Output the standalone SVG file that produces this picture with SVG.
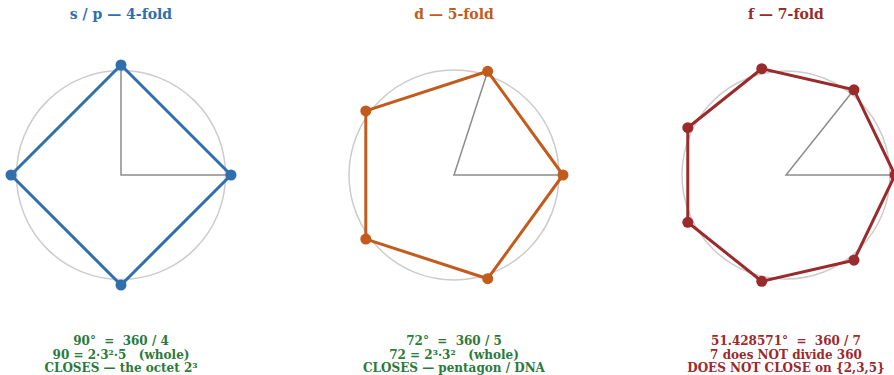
<svg xmlns="http://www.w3.org/2000/svg" width="894" height="375" viewBox="0 0 894 375">
<style>
.bg{fill:#ffffff}
.title{font-family:"DejaVu Serif",serif;font-weight:bold;font-size:14px;text-anchor:middle}
.cap{font-family:"DejaVu Serif",serif;font-weight:bold;font-size:12px;text-anchor:middle}
.circ{fill:none;stroke:#cccccc;stroke-width:1.5}
.rad{stroke:#8c8c8c;stroke-width:1.5;fill:none}
.poly{fill:none;stroke-width:3;stroke-linejoin:round}
.blue{stroke:#2f6fae}
.orange{stroke:#c25b1b}
.red{stroke:#9a2a2c}
.dblue{fill:#2f6fae}
.dorange{fill:#c25b1b}
.dred{fill:#9a2a2c}
.green{fill:#2b7a3b}
</style>
<rect class="bg" x="0" y="0" width="894" height="375"/>

<g id="panel-sp">
<text class="title dblue" x="121" y="18.5">s / p — 4-fold</text>
<circle class="circ" cx="121" cy="175" r="104.5"/>
<polyline class="rad" points="121,65 121,175 231,175"/>
<polygon class="poly blue" points="231,175 121,65 11,175 121,285"/>
<g class="dblue">
<circle cx="231" cy="175" r="5.5"/><circle cx="121" cy="65" r="5.5"/><circle cx="11" cy="175" r="5.5"/><circle cx="121" cy="285" r="5.5"/>
</g>
<text class="cap green" x="121" y="345" xml:space="preserve">90°  =  360 / 4</text>
<text class="cap green" x="121" y="358.5" xml:space="preserve">90 = 2·3²·5   (whole)</text>
<text class="cap green" x="121" y="372">CLOSES — the octet 2³</text>
</g>

<g id="panel-d">
<text class="title dorange" x="454" y="18.5">d — 5-fold</text>
<circle class="circ" cx="454" cy="175" r="105"/>
<polyline class="rad" points="487.7,71.3 454,175 563,175"/>
<polygon class="poly orange" points="563,175 487.7,71.3 365.8,110.9 365.8,239.1 487.7,278.7"/>
<g class="dorange">
<circle cx="563" cy="175" r="5.5"/><circle cx="487.7" cy="71.3" r="5.5"/><circle cx="365.8" cy="110.9" r="5.5"/><circle cx="365.8" cy="239.1" r="5.5"/><circle cx="487.7" cy="278.7" r="5.5"/>
</g>
<text class="cap green" x="454" y="345" xml:space="preserve">72°  =  360 / 5</text>
<text class="cap green" x="454" y="358.5" xml:space="preserve">72 = 2³·3²   (whole)</text>
<text class="cap green" x="454" y="372">CLOSES — pentagon / DNA</text>
</g>

<g id="panel-f">
<text class="title dred" x="786" y="18.5">f — 7-fold</text>
<circle class="circ" cx="786" cy="175" r="104"/>
<polyline class="rad" points="853.96,89.78 786,175 895,175"/>
<polygon class="poly red" points="895,175 853.96,89.78 761.75,68.73 687.79,127.71 687.79,222.29 761.75,281.27 853.96,260.22"/>
<g class="dred">
<circle cx="895" cy="175" r="5.5"/><circle cx="853.96" cy="89.78" r="5.5"/><circle cx="761.75" cy="68.73" r="5.5"/><circle cx="687.79" cy="127.71" r="5.5"/><circle cx="687.79" cy="222.29" r="5.5"/><circle cx="761.75" cy="281.27" r="5.5"/><circle cx="853.96" cy="260.22" r="5.5"/>
</g>
<text class="cap dred" x="786" y="345" xml:space="preserve">51.428571°  =  360 / 7</text>
<text class="cap dred" x="786" y="358.5">7 does NOT divide 360</text>
<text class="cap dred" x="786" y="372">DOES NOT CLOSE on {2,3,5}</text>
</g>
</svg>
